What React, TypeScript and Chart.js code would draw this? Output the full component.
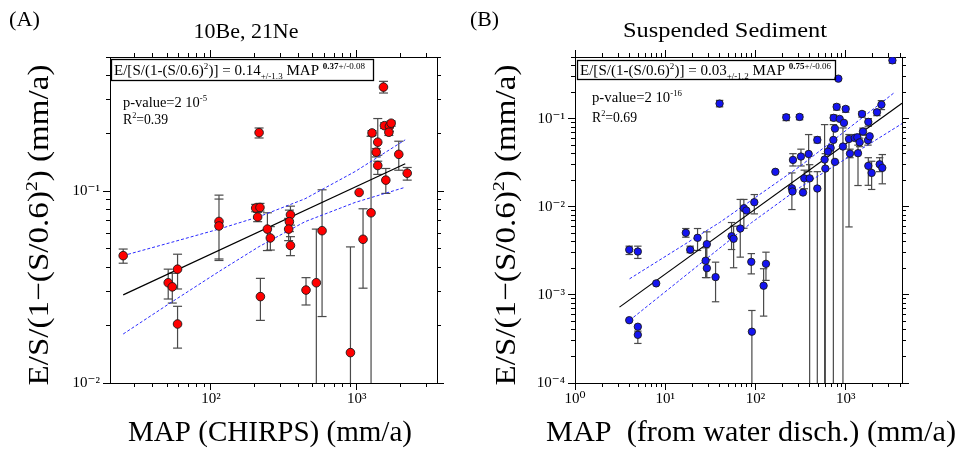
import React, { useEffect, useRef } from 'react';
import { Chart, registerables } from 'chart.js';
Chart.register(...registerables);

const FONT = '"Liberation Serif", "DejaVu Serif", serif';

// ---------------- Panel A : 10Be, 21Ne ----------------
const A_MAP = [25.0, 50.9, 54.3, 59.0, 59.0, 113.5, 113.5, 202.6, 216.8, 209.0, 213.8, 218.3, 243.8, 255.4, 350.9, 345.0, 341.0, 350.9, 448.6, 528, 578, 905, 1038, 1104, 1253, 1273, 1393, 1359, 1393, 1524, 1549, 1675, 1721, 1660, 1582, 1941, 2218];
const A_E = [0.0461, 0.0333, 0.0317, 0.0392, 0.0203, 0.0695, 0.0658, 0.0816, 0.0822, 0.0733, 0.2018, 0.0282, 0.0634, 0.057, 0.0753, 0.0693, 0.0634, 0.0521, 0.0305, 0.0333, 0.0622, 0.0144, 0.0984, 0.0561, 0.0771, 0.201, 0.1799, 0.1596, 0.136, 0.3484, 0.2193, 0.2178, 0.2259, 0.2027, 0.1141, 0.1555, 0.124];
const A_LO = [0.0421, 0.0274, 0.0261, 0.0309, 0.0152, 0.0435, 0.0443, 0.0781, 0.0787, 0.0693, 0.1892, 0.0212, 0.049, 0.0493, 0.0665, 0.0615, 0.0552, 0.0461, 0.0255, 0.001, 0.0222, 0.001, null, 0.0312, 0.001, 0.1953, 0.1538, 0.1507, 0.1222, 0.3245, 0.212, 0.205, 0.218, 0.195, 0.0973, 0.1285, 0.1141];
const A_HI = [0.0499, 0.0392, 0.0373, 0.0469, 0.0251, 0.0953, 0.0909, 0.0853, 0.0863, 0.0775, 0.2133, 0.0351, 0.0771, 0.0653, 0.0835, 0.0796, 0.0721, 0.0579, 0.0354, 0.0634, 0.1016, 0.0512, null, 0.0809, 0.193, 0.2066, 0.2389, 0.1667, 0.1432, 0.3733, 0.227, 0.228, 0.232, 0.213, 0.1312, 0.182, 0.1328];
const A_FIT_MAP = [25, 2150];
const A_FIT_E = [0.0288, 0.139];
const A_BAND_MAP = [25, 53.7, 113.5, 213.8, 441.6, 974, 2147];
const A_BAND_UP = [0.0461, 0.0541, 0.0634, 0.0736, 0.0912, 0.1265, 0.185];
const A_BAND_LOW = [0.018, 0.0264, 0.0381, 0.0514, 0.0693, 0.0873, 0.1047];

// ---------------- Panel B : Suspended Sediment ----------------
const B_MAP = [3288, 828, 40.0, 219, 308, 793, 998, 1513, 2484, 2218, 734, 857, 955, 1778, 759, 1552, 729, 1086, 1256, 1344, 1426, 1763, 1841, 484, 931, 680, 635, 1114, 1367, 759, 594, 583, 388, 319, 260, 166, 347, 398, 253, 257, 336, 484, 1778, 1935, 2375, 2540, 97, 74.3, 79.1, 67.8, 54.3, 57.2, 16.9, 22.8, 18.9, 28.9, 28.0, 28.9, 36.1, 3.99, 4.97, 7.94, 3.99, 4.97, 4.97, 89.8, 130.6, 123, 91.2];
const B_E = [0.458, 0.284, 0.148, 0.1035, 0.1045, 0.136, 0.1288, 0.113, 0.144, 0.118, 0.102, 0.0993, 0.0894, 0.0918, 0.077, 0.0713, 0.0573, 0.0588, 0.0604, 0.0614, 0.0538, 0.0568, 0.063, 0.0573, 0.0482, 0.0465, 0.0422, 0.0401, 0.0405, 0.0323, 0.0271, 0.0343, 0.0397, 0.0371, 0.034, 0.0249, 0.021, 0.021, 0.0162, 0.0149, 0.0145, 0.0161, 0.0291, 0.0242, 0.0303, 0.0276, 0.01125, 0.00962, 0.00906, 0.00566, 0.00463, 0.00433, 0.00506, 0.00444, 0.00325, 0.00376, 0.00244, 0.00201, 0.00159, 0.00325, 0.0031, 0.00135, 0.000516, 0.000435, 0.000352, 0.00237, 0.00225, 0.00127, 0.000382];
const B_LO = [0.425, null, 0.136, 0.0949, 0.097, 0.125, 0.118, 0.104, 0.1265, 0.108, 0.095, null, null, 0.082, null, 0.065, 1e-6, 0.0059, null, 0.056, 0.048, 0.05, null, 0.053, 1e-6, null, null, 0.036, 0.0174, null, 1e-6, 1e-6, 0.025, 0.029, 0.029, null, 0.016, 1e-6, 0.00929, null, null, 1e-6, 0.0175, 0.0157, 0.025, 0.0182, 0.0083, 0.0057, null, 0.00268, 0.00327, 0.00203, 0.00451, 0.00319, 0.00301, 0.0025, 0.00157, 0.00157, 0.000835, 0.00287, 0.00259, null, null, null, 0.000281, 0.00173, 0.00146, 0.000574, 1e-6];
const B_HI = [0.49, null, 0.161, 0.111, 0.111, 0.145, 0.136, 0.12, 0.16, 0.125, 0.11, null, null, 0.1, null, 0.078, 0.0855, 0.066, null, 0.066, 0.06, 0.065, null, 0.062, 0.0784, null, null, 0.045, 0.05, null, 0.04, 0.0855, 0.0659, 0.045, 0.04, null, 0.026, 0.03, 0.0242, null, null, 0.025, 0.036, 0.0328, 0.036, 0.0391, 0.01375, 0.0121, null, 0.0121, 0.00662, 0.00601, 0.00566, 0.00566, 0.00357, 0.00519, 0.00342, 0.00252, 0.00235, 0.00357, 0.00357, null, null, null, 0.000388, 0.00294, 0.00305, 0.00198, 0.000665];
const B_FIT_MAP = [3.11, 4200];
const B_FIT_E = [0.000726, 0.149];
const B_UP_MAP = [4.02, 40.0, 316, 3483];
const B_UP_E = [0.00152, 0.00662, 0.0291, 0.1986];
const B_LOW_MAP = [4.02, 89.7, 316, 4200];
const B_LOW_E = [0.000513, 0.00656, 0.01675, 0.0877];

// ---------------- helpers ----------------
const SUP: Record<string, string> = { '-': '\u207B', '0': '\u2070', '1': '\u00B9', '2': '\u00B2', '3': '\u00B3', '4': '\u2074', '5': '\u2075', '6': '\u2076', '7': '\u2077', '8': '\u2078', '9': '\u2079' };
function decadeLabel(v: number) {
  const e = Math.log10(v);
  const r = Math.round(e);
  if (Math.abs(e - r) > 1e-6) return '';
  return '10' + String(r).split('').map((c) => SUP[c]).join('');
}
function logTicks(min: number, max: number, majorOnly: boolean) {
  const out: any[] = [];
  for (let e = Math.floor(Math.log10(min)) - 1; e <= Math.ceil(Math.log10(max)); e++) {
    for (let m = 1; m <= 9; m++) {
      if (majorOnly && m !== 1) continue;
      const v = parseFloat((m * Math.pow(10, e)).toPrecision(6));
      if (v >= min * 0.9999 && v <= max * 1.0001) out.push({ value: v, major: m === 1 });
    }
  }
  return out;
}
function logAxis(axis: 'x' | 'y', position: string, min: number, max: number, labels: boolean, major: boolean, weight: number, size: number) {
  return {
    type: 'logarithmic', axis, position, min, max, weight,
    afterBuildTicks: (s: any) => { s.ticks = logTicks(min, max, major); },
    afterFit: (s: any) => { if (axis === 'x') s.height = size; else s.width = size; },
    grid: { display: true, drawOnChartArea: false, drawTicks: true, tickLength: major ? 7 : 4, color: '#000', tickColor: '#000', tickWidth: 1 },
    border: { display: !major, color: '#000', width: 1 },
    ticks: {
      display: labels, autoSkip: false, maxRotation: 0, minRotation: 0,
      padding: axis === 'x' ? 3 : 6, color: '#000',
      font: { family: FONT, size: 15 },
      callback: (v: any) => decadeLabel(Number(v)),
    },
  };
}
function errSegments(xs: number[], lo: (number | null)[], hi: (number | null)[]) {
  const d: any[] = [];
  xs.forEach((x, i) => {
    if (lo[i] == null || hi[i] == null) return;
    d.push({ x, y: lo[i] }, { x, y: hi[i] }, { x, y: null });
  });
  return d;
}
function errCaps(xs: number[], lo: (number | null)[], hi: (number | null)[]) {
  const d: any[] = [];
  xs.forEach((x, i) => {
    if (lo[i] == null || hi[i] == null) return;
    d.push({ x, y: lo[i] }, { x, y: hi[i] });
  });
  return d;
}
const pts = (xs: number[], ys: number[]) => xs.map((x, i) => ({ x, y: ys[i] }));

type Part = { t: string; s: number; dy?: number; b?: boolean };
type TextItem = { parts: Part[]; x: number; y: number; w: number; center?: boolean; rot?: boolean };
function drawRich(ctx: CanvasRenderingContext2D, it: TextItem) {
  let w = 0;
  const widths = it.parts.map((p) => {
    ctx.font = `${p.b ? 'bold ' : ''}${p.s}px ${FONT}`;
    const m = ctx.measureText(p.t).width;
    w += m;
    return m;
  });
  const k = it.w / w;
  ctx.save();
  ctx.translate(it.x, it.y);
  if (it.rot) ctx.rotate(-Math.PI / 2);
  ctx.scale(k, 1);
  let cx = it.center || it.rot ? -w / 2 : 0;
  ctx.fillStyle = '#000';
  ctx.textBaseline = 'alphabetic';
  ctx.textAlign = 'left';
  it.parts.forEach((p, i) => {
    ctx.font = `${p.b ? 'bold ' : ''}${p.s}px ${FONT}`;
    ctx.fillText(p.t, cx, (p.dy || 0) + (it.rot ? 9 : 0));
    cx += widths[i];
  });
  ctx.restore();
}

function makeConfig(p: any) {
  const textPlugin = {
    id: 'texts',
    afterDraw(chart: any) {
      const ctx = chart.ctx as CanvasRenderingContext2D;
      ctx.save();
      const [x0, y0, x1, y1] = p.box;
      ctx.strokeStyle = '#000';
      ctx.lineWidth = 1.3;
      ctx.strokeRect(x0 + 0.5, y0 + 0.5, x1 - x0, y1 - y0);
      p.texts.forEach((t: TextItem) => drawRich(ctx, t));
      ctx.restore();
    },
  };
  return {
    type: 'scatter',
    data: {
      datasets: [
        { data: errSegments(p.map, p.lo, p.hi), showLine: true, spanGaps: false, pointRadius: 0, borderColor: '#4a4a4a', borderWidth: 1.2, order: 6 },
        { data: errCaps(p.map, p.lo, p.hi), showLine: false, pointStyle: 'line', pointRadius: p.cap, pointBorderColor: '#4a4a4a', pointBorderWidth: 1.2, order: 5 },
        { data: pts(p.upMap, p.upE), showLine: true, pointRadius: 0, borderColor: '#2a2aff', borderWidth: 1, borderDash: [3, 2], order: 4 },
        { data: pts(p.lowMap, p.lowE), showLine: true, pointRadius: 0, borderColor: '#2a2aff', borderWidth: 1, borderDash: [3, 2], order: 4 },
        { data: pts(p.fitMap, p.fitE), showLine: true, pointRadius: 0, borderColor: '#000', borderWidth: 1.2, order: 3 },
        { data: pts(p.map, p.e), showLine: false, pointRadius: p.r, pointBackgroundColor: p.color, pointBorderColor: '#1a1a1a', pointBorderWidth: 0.9, order: 1 },
      ],
    },
    options: {
      responsive: false, devicePixelRatio: 1, animation: false, events: [],
      layout: { padding: { left: 0, right: p.padRight, top: 57, bottom: 0 } },
      plugins: { legend: { display: false }, tooltip: { enabled: false }, title: { display: false } },
      scales: {
        x: logAxis('x', 'bottom', p.xmin, p.xmax, true, false, 0, 67),
        xM: logAxis('x', 'bottom', p.xmin, p.xmax, false, true, -1, 0),
        xt: logAxis('x', 'top', p.xmin, p.xmax, false, false, 0, 0),
        xtM: logAxis('x', 'top', p.xmin, p.xmax, false, true, -1, 0),
        y: logAxis('y', 'left', p.ymin, p.ymax, true, false, 0, 110),
        yM: logAxis('y', 'left', p.ymin, p.ymax, false, true, -1, 0),
        yr: logAxis('y', 'right', p.ymin, p.ymax, false, false, 0, 0),
        yrM: logAxis('y', 'right', p.ymin, p.ymax, false, true, -1, 0),
      },
    },
    plugins: [textPlugin],
  } as any;
}

const yTitle = [{ t: 'E/S/(1\u2212(S/0.6)', s: 29 }, { t: '2', s: 17, dy: -11 }, { t: ') (mm/a)', s: 29 }];

const PANEL_A = {
  map: A_MAP, e: A_E, lo: A_LO, hi: A_HI,
  fitMap: A_FIT_MAP, fitE: A_FIT_E,
  upMap: A_BAND_MAP, upE: A_BAND_UP, lowMap: A_BAND_MAP, lowE: A_BAND_LOW,
  xmin: 20.3, xmax: 3550, ymin: 0.01, ymax: 0.5,
  color: '#ff0000', r: 4.3, cap: 4.5, padRight: 28,
  box: [111, 59, 373, 80],
  texts: [
    { parts: [{ t: '(A)', s: 22 }], x: 9, y: 26, w: 31 },
    { parts: [{ t: '10Be, 21Ne', s: 22 }], x: 246, y: 38, w: 105, center: true },
    { parts: [{ t: 'E/[S/(1-(S/0.6)', s: 15 }, { t: '2', s: 9, dy: -6 }, { t: ')] = 0.14', s: 15 }, { t: '+/-1.3', s: 9, dy: 4 }, { t: ' MAP ', s: 15 }, { t: '0.37', s: 9, dy: -6, b: true }, { t: '+/-0.08', s: 9, dy: -6 }], x: 114, y: 75, w: 251 },
    { parts: [{ t: 'p-value=2 10', s: 15 }, { t: '-5', s: 9, dy: -6 }], x: 123, y: 107, w: 84 },
    { parts: [{ t: 'R', s: 15 }, { t: '2', s: 9, dy: -6 }, { t: '=0.39', s: 15 }], x: 123, y: 124, w: 45 },
    { parts: [{ t: 'MAP (CHIRPS) (mm/a)', s: 29 }], x: 270, y: 441, w: 284, center: true },
    { parts: yTitle, x: 39, y: 225, w: 321, rot: true },
  ],
};

const PANEL_B = {
  map: B_MAP, e: B_E, lo: B_LO, hi: B_HI,
  fitMap: B_FIT_MAP, fitE: B_FIT_E,
  upMap: B_UP_MAP, upE: B_UP_E, lowMap: B_LOW_MAP, lowE: B_LOW_E,
  xmin: 1, xmax: 4200, ymin: 0.0001, ymax: 0.5,
  color: '#1414f0', r: 3.7, cap: 3.7, padRight: 56,
  box: [112, 60, 370, 79],
  texts: [
    { parts: [{ t: '(B)', s: 22 }], x: 5, y: 26, w: 29 },
    { parts: [{ t: 'Suspended Sediment', s: 22 }], x: 260, y: 37, w: 204, center: true },
    { parts: [{ t: 'E/[S/(1-(S/0.6)', s: 15 }, { t: '2', s: 9, dy: -6 }, { t: ')] = 0.03', s: 15 }, { t: '+/-1.2', s: 9, dy: 4 }, { t: ' MAP ', s: 15 }, { t: '0.75', s: 9, dy: -6, b: true }, { t: '+/-0.06', s: 9, dy: -6 }], x: 115, y: 74.5, w: 251 },
    { parts: [{ t: 'p-value=2 10', s: 15 }, { t: '-16', s: 9, dy: -6 }], x: 127, y: 102, w: 90 },
    { parts: [{ t: 'R', s: 15 }, { t: '2', s: 9, dy: -6 }, { t: '=0.69', s: 15 }], x: 127, y: 122, w: 45 },
    { parts: [{ t: 'MAP  (from water disch.) (mm/a)', s: 29 }], x: 286, y: 441, w: 410, center: true },
    { parts: yTitle, x: 41, y: 225, w: 321, rot: true },
  ],
};

export default function App() {
  const refA = useRef<HTMLCanvasElement>(null);
  const refB = useRef<HTMLCanvasElement>(null);
  useEffect(() => {
    const a = new Chart(refA.current as HTMLCanvasElement, makeConfig(PANEL_A));
    const b = new Chart(refB.current as HTMLCanvasElement, makeConfig(PANEL_B));
    return () => { a.destroy(); b.destroy(); };
  }, []);
  return (
    <div style={{ position: 'absolute', left: 0, top: 0, width: 958, height: 450, background: '#fff' }}>
      <canvas ref={refA} width={465} height={450} style={{ position: 'absolute', left: 0, top: 0, width: 465, height: 450 }} />
      <canvas ref={refB} width={493} height={450} style={{ position: 'absolute', left: 465, top: 0, width: 493, height: 450 }} />
    </div>
  );
}
